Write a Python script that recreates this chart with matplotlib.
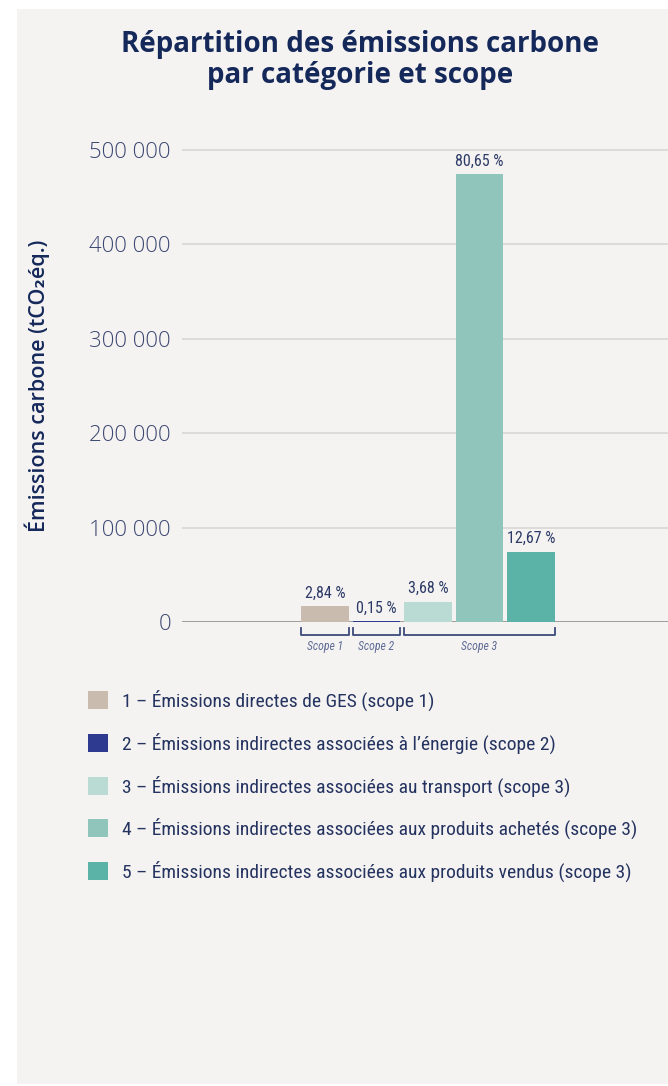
import matplotlib
matplotlib.use("Agg")
import matplotlib.pyplot as plt
from matplotlib.patches import Rectangle
from matplotlib import font_manager

# data
labels = [
    "1 – Émissions directes de GES (scope 1)",
    "2 – Émissions indirectes associées à l’énergie (scope 2)",
    "3 – Émissions indirectes associées au transport (scope 3)",
    "4 – Émissions indirectes associées aux produits achetés (scope 3)",
    "5 – Émissions indirectes associées aux produits vendus (scope 3)",
]
values = [16700, 880, 21650, 474600, 74550]
pct_labels = ["2,84 %", "0,15 %", "3,68 %", "80,65 %", "12,67 %"]
colors = ["#c9bcaf", "#2e3a8f", "#b9dbd3", "#8fc5bb", "#5bb3a7"]
scopes = ["Scope 1", "Scope 2", "Scope 3", "Scope 3", "Scope 3"]
yticks = [0, 100000, 200000, 300000, 400000, 500000]
ytick_labels = ["0", "100 000", "200 000", "300 000", "400 000", "500 000"]

navy = "#14285a"
names = sorted({f.name for f in font_manager.fontManager.ttflist})
narrow = [n for n in ["Roboto Condensed", "Liberation Sans Narrow", "Open Sans Condensed",
                      "DejaVu Sans Condensed", "Roboto"] if n in names] + ["DejaVu Sans"]

W, H = 668, 1086
fig = plt.figure(figsize=(W / 100, H / 100), dpi=100)
fig.patch.set_facecolor("white")
fig.patches.append(Rectangle((17 / W, 0.002), 1, 1 - 9 / H - 0.002, transform=fig.transFigure,
                             facecolor="#f5f3f2", edgecolor="none", zorder=-10))

ax = fig.add_axes([182 / W, 1 - 622 / H, 486 / W, 481.4 / H])
ax.set_facecolor("none")

x = list(range(len(values)))
width = 0.92
bars = []
for i in x:
    b = ax.bar(i, values[i], width=width, color=colors[i], label=labels[i], zorder=3)
    bars.append(b)
    ax.text(i, values[i] + 6000, pct_labels[i], ha="center", va="bottom", fontsize=11.5,
            color="#2b3a66", family=narrow, zorder=4)

ax.set_xlim(-2.777, 6.66)
ax.set_ylim(0, 510000)
ax.set_yticks(yticks)
ax.set_yticklabels(ytick_labels, family=["Open Sans", "DejaVu Sans"], fontweight="light",
                   fontsize=16, color="#3c4772")
ax.set_xticks([])
ax.tick_params(axis="y", length=0, pad=8)
for s in ax.spines.values():
    s.set_visible(False)
ax.grid(axis="y", color="#d9d7d6", linewidth=1.2, zorder=0)
ax.axhline(0, color="#8c8c8c", linewidth=1.8, zorder=2)

ax.set_ylabel("Émissions carbone (tCO₂éq.)", family=["Open Sans", "DejaVu Sans"],
              fontweight="semibold", fontsize=15.5, color=navy, labelpad=0)
ax.yaxis.set_label_coords(-(182 - 50) / 486, (622 - 386) / 481.4)

# scope brackets
tr = ax.get_xaxis_transform()
groups = {}
for i, s in enumerate(scopes):
    groups.setdefault(s, []).append(i)
for s, idx in groups.items():
    x0 = min(idx) - width / 2
    x1 = max(idx) + width / 2
    ax.plot([x0, x0, x1, x1], [-0.0125, -0.027, -0.027, -0.0125], transform=tr,
            color="#3b4a7a", linewidth=1.3, clip_on=False)
    ax.text((x0 + x1) / 2, -0.05, s, transform=tr, ha="center", va="center",
            fontsize=8.5, style="italic", color="#5d6a94", family=narrow)

fig.text(360 / W, 1 - 60 / H, "Répartition des émissions carbone\npar catégorie et scope",
         ha="center", va="center", fontsize=20, fontweight="bold", color=navy,
         family=["Open Sans", "DejaVu Sans"], linespacing=1.05)

leg = fig.legend(handles=[b.patches[0] for b in bars], labels=labels, loc="upper left",
                 bbox_to_anchor=(88 / W, 1 - 690 / H), frameon=False, borderpad=0,
                 borderaxespad=0, handlelength=1.03, handleheight=1.03,
                 handletextpad=0.7, labelspacing=1.1, prop={"family": narrow, "size": 14})
for t in leg.get_texts():
    t.set_color("#24335f")

fig.savefig("out.png", dpi=100)
